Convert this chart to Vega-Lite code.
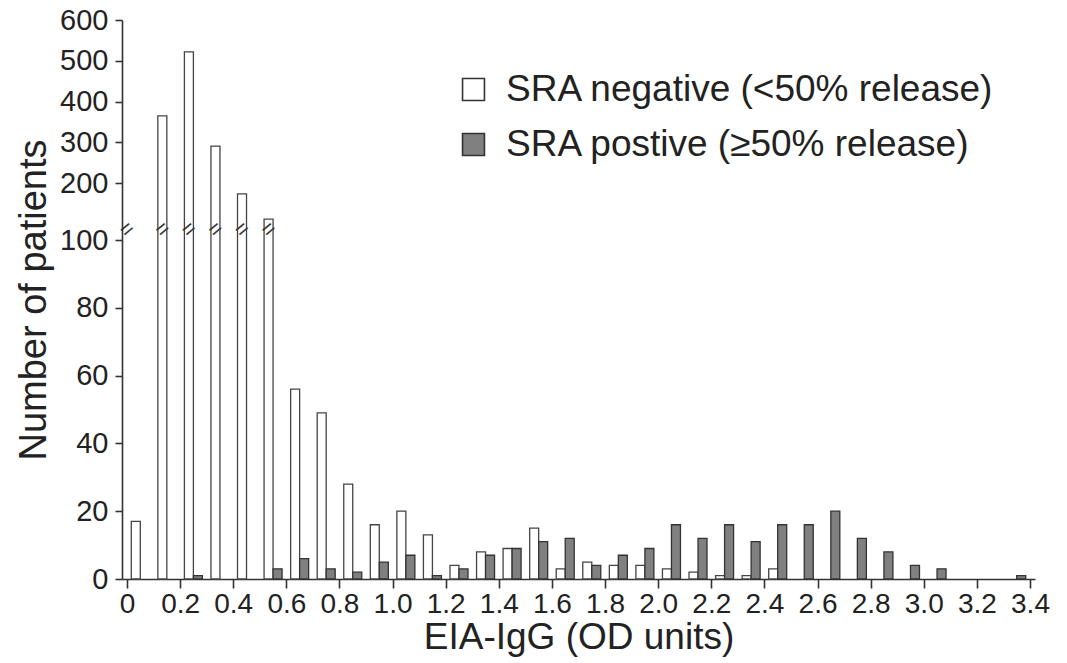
{
  "$schema": "https://vega.github.io/schema/vega-lite/v6.json",
  "width": 913,
  "height": 559,
  "autosize": {"type": "none"},
  "padding": {"left": 122, "top": 20, "right": 32, "bottom": 84},
  "background": "white",
  "config": {
    "view": {"stroke": null},
    "font": "Liberation Sans",
    "axis": {"labelFont": "Liberation Sans", "titleFont": "Liberation Sans", "labelColor": "#222", "titleColor": "#222", "titleFontWeight": "normal", "domainColor": "#333", "tickColor": "#333", "domainWidth": 1.6, "tickWidth": 1.6, "grid": false}
  },
  "datasets": {
    "bars": [
      {"od": 0.05, "group": "SRA negative (<50% release)", "n": 17},
      {"od": 0.15, "group": "SRA negative (<50% release)", "n": 365},
      {"od": 0.25, "group": "SRA negative (<50% release)", "n": 522},
      {"od": 0.35, "group": "SRA negative (<50% release)", "n": 291},
      {"od": 0.45, "group": "SRA negative (<50% release)", "n": 174},
      {"od": 0.55, "group": "SRA negative (<50% release)", "n": 112},
      {"od": 0.65, "group": "SRA negative (<50% release)", "n": 56},
      {"od": 0.75, "group": "SRA negative (<50% release)", "n": 49},
      {"od": 0.85, "group": "SRA negative (<50% release)", "n": 28},
      {"od": 0.95, "group": "SRA negative (<50% release)", "n": 16},
      {"od": 1.05, "group": "SRA negative (<50% release)", "n": 20},
      {"od": 1.15, "group": "SRA negative (<50% release)", "n": 13},
      {"od": 1.25, "group": "SRA negative (<50% release)", "n": 4},
      {"od": 1.35, "group": "SRA negative (<50% release)", "n": 8},
      {"od": 1.45, "group": "SRA negative (<50% release)", "n": 9},
      {"od": 1.55, "group": "SRA negative (<50% release)", "n": 15},
      {"od": 1.65, "group": "SRA negative (<50% release)", "n": 3},
      {"od": 1.75, "group": "SRA negative (<50% release)", "n": 5},
      {"od": 1.85, "group": "SRA negative (<50% release)", "n": 4},
      {"od": 1.95, "group": "SRA negative (<50% release)", "n": 4},
      {"od": 2.05, "group": "SRA negative (<50% release)", "n": 3},
      {"od": 2.15, "group": "SRA negative (<50% release)", "n": 2},
      {"od": 2.25, "group": "SRA negative (<50% release)", "n": 1},
      {"od": 2.35, "group": "SRA negative (<50% release)", "n": 1},
      {"od": 2.45, "group": "SRA negative (<50% release)", "n": 3},
      {"od": 0.25, "group": "SRA postive (≥50% release)", "n": 1},
      {"od": 0.55, "group": "SRA postive (≥50% release)", "n": 3},
      {"od": 0.65, "group": "SRA postive (≥50% release)", "n": 6},
      {"od": 0.75, "group": "SRA postive (≥50% release)", "n": 3},
      {"od": 0.85, "group": "SRA postive (≥50% release)", "n": 2},
      {"od": 0.95, "group": "SRA postive (≥50% release)", "n": 5},
      {"od": 1.05, "group": "SRA postive (≥50% release)", "n": 7},
      {"od": 1.15, "group": "SRA postive (≥50% release)", "n": 1},
      {"od": 1.25, "group": "SRA postive (≥50% release)", "n": 3},
      {"od": 1.35, "group": "SRA postive (≥50% release)", "n": 7},
      {"od": 1.45, "group": "SRA postive (≥50% release)", "n": 9},
      {"od": 1.55, "group": "SRA postive (≥50% release)", "n": 11},
      {"od": 1.65, "group": "SRA postive (≥50% release)", "n": 12},
      {"od": 1.75, "group": "SRA postive (≥50% release)", "n": 4},
      {"od": 1.85, "group": "SRA postive (≥50% release)", "n": 7},
      {"od": 1.95, "group": "SRA postive (≥50% release)", "n": 9},
      {"od": 2.05, "group": "SRA postive (≥50% release)", "n": 16},
      {"od": 2.15, "group": "SRA postive (≥50% release)", "n": 12},
      {"od": 2.25, "group": "SRA postive (≥50% release)", "n": 16},
      {"od": 2.35, "group": "SRA postive (≥50% release)", "n": 11},
      {"od": 2.45, "group": "SRA postive (≥50% release)", "n": 16},
      {"od": 2.55, "group": "SRA postive (≥50% release)", "n": 16},
      {"od": 2.65, "group": "SRA postive (≥50% release)", "n": 20},
      {"od": 2.75, "group": "SRA postive (≥50% release)", "n": 12},
      {"od": 2.85, "group": "SRA postive (≥50% release)", "n": 8},
      {"od": 2.95, "group": "SRA postive (≥50% release)", "n": 4},
      {"od": 3.05, "group": "SRA postive (≥50% release)", "n": 3},
      {"od": 3.35, "group": "SRA postive (≥50% release)", "n": 1}
    ],
    "breaks": [
      {"od": 0.15, "n": 103},
      {"od": 0.25, "n": 103},
      {"od": 0.35, "n": 103},
      {"od": 0.45, "n": 103},
      {"od": 0.55, "n": 103}
    ],
    "axisbreak": [
      {"od": 0, "n": 103}
    ]
  },
  "layer": [
    {
      "data": {"name": "bars"},
      "transform": [{"filter": "datum.group == 'SRA negative (<50% release)'"}],
      "mark": {"type": "bar", "size": 9, "xOffset": -4.5, "stroke": "#444", "strokeWidth": 1.3},
      "encoding": {
        "x": {
          "field": "od", "type": "quantitative",
          "scale": {"domain": [0, 3.4], "nice": false, "zero": false},
          "axis": {
            "title": "EIA-IgG (OD units)",
            "values": [0, 0.1, 0.2, 0.3, 0.4, 0.5, 0.6, 0.7, 0.8, 0.9, 1.0, 1.1, 1.2, 1.3, 1.4, 1.5, 1.6, 1.7, 1.8, 1.9, 2.0, 2.1, 2.2, 2.3, 2.4, 2.5, 2.6, 2.7, 2.8, 2.9, 3.0, 3.1, 3.2, 3.3, 3.4],
            "labelExpr": "datum.value == 0 ? '0' : (round(datum.value * 10) % 2 == 0 ? format(datum.value, '.1f') : '')",
            "tickSize": {"condition": {"test": "round(datum.value * 10) % 2 == 0", "value": 9}, "value": 5},
            "labelFontSize": 28,
            "labelPadding": 2,
            "labelFlush": false,
            "labelOverlap": false,
            "titleFontSize": 37,
            "titlePadding": 1
          }
        },
        "y": {
          "field": "n", "type": "quantitative",
          "scale": {"domain": [0, 100, 105, 600], "range": [559, 220, 202, 0], "nice": false, "zero": false},
          "axis": {
            "title": "Number of patients",
            "values": [0, 20, 40, 60, 80, 100, 200, 300, 400, 500, 600],
            "tickSize": 7,
            "labelFontSize": 29,
            "labelPadding": 7,
            "titleFontSize": 38,
            "titlePadding": 6
          }
        },
        "color": {
          "field": "group", "type": "nominal",
          "scale": {"domain": ["SRA negative (<50% release)", "SRA postive (≥50% release)"], "range": ["#ffffff", "#808080"]},
          "legend": {
            "title": null,
            "orient": "none",
            "legendX": 333,
            "legendY": 51,
            "symbolType": "square",
            "symbolSize": 480,
            "symbolStrokeColor": "#333",
            "symbolStrokeWidth": 1.6,
            "labelFontSize": 37,
            "labelFont": "Liberation Sans",
            "labelColor": "#222",
            "labelOffset": 14,
            "labelLimit": 700,
            "rowPadding": 17,
            "padding": 0
          }
        }
      }
    },
    {
      "data": {"name": "bars"},
      "transform": [{"filter": "datum.group != 'SRA negative (<50% release)'"}],
      "mark": {"type": "bar", "size": 9, "xOffset": 4.5, "stroke": "#333", "strokeWidth": 1.3},
      "encoding": {
        "x": {"field": "od", "type": "quantitative"},
        "y": {"field": "n", "type": "quantitative"},
        "color": {"field": "group", "type": "nominal"}
      }
    },
    {
      "data": {"name": "breaks"},
      "mark": {"type": "text", "text": "=", "fontSize": 22, "angle": -40, "xOffset": -4.5, "color": "#333", "baseline": "middle", "align": "center"},
      "encoding": {
        "x": {"field": "od", "type": "quantitative"},
        "y": {"field": "n", "type": "quantitative"}
      }
    },
    {
      "data": {"name": "axisbreak"},
      "mark": {"type": "text", "text": "=", "fontSize": 22, "angle": -40, "color": "#333", "baseline": "middle", "align": "center"},
      "encoding": {
        "x": {"field": "od", "type": "quantitative"},
        "y": {"field": "n", "type": "quantitative"}
      }
    }
  ]
}
